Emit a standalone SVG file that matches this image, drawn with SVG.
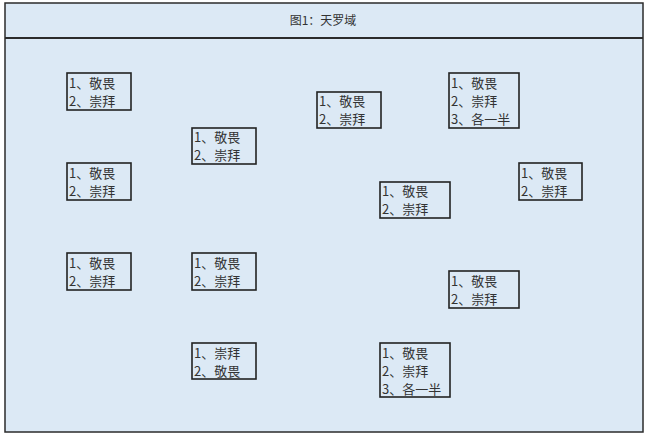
<svg xmlns="http://www.w3.org/2000/svg" width="648" height="437" viewBox="0 0 648 437">
<style>
.frame{fill:#dce9f5;stroke:#2b2b2b;stroke-width:1.5}
.box{fill:#dce9f5;stroke:#222;stroke-width:1.6}
.t{font-family:"Noto Sans CJK SC","Liberation Sans",sans-serif;font-size:13px;fill:#333}
.title{font-family:"Noto Sans CJK SC","Liberation Sans",sans-serif;font-size:12px;fill:#333;text-anchor:middle}
</style>
<rect width="648" height="437" fill="#ffffff"/>
<g id="frame">
<rect class="frame" x="5" y="3" width="638" height="429"/>
<line x1="5" y1="38" x2="643" y2="38" stroke="#2b2b2b" stroke-width="2"/>
<text class="title" x="323" y="25">图1：天罗域</text>
</g>
<g id="n1"><rect class="box" x="67" y="73" width="64" height="37"/><text class="t" x="69" y="88">1、敬畏</text><text class="t" x="69" y="106">2、崇拜</text></g>
<g id="n2"><rect class="box" x="67" y="163" width="64" height="37"/><text class="t" x="69" y="178">1、敬畏</text><text class="t" x="69" y="196">2、崇拜</text></g>
<g id="n3"><rect class="box" x="67" y="253" width="64" height="37"/><text class="t" x="69" y="268">1、敬畏</text><text class="t" x="69" y="286">2、崇拜</text></g>
<g id="n4"><rect class="box" x="192" y="128" width="64" height="36"/><text class="t" x="194" y="142">1、敬畏</text><text class="t" x="194" y="160">2、崇拜</text></g>
<g id="n5"><rect class="box" x="192" y="253" width="64" height="37"/><text class="t" x="194" y="268">1、敬畏</text><text class="t" x="194" y="286">2、崇拜</text></g>
<g id="n6"><rect class="box" x="192" y="343" width="64" height="36"/><text class="t" x="194" y="358">1、崇拜</text><text class="t" x="194" y="376">2、敬畏</text></g>
<g id="n7"><rect class="box" x="317" y="92" width="64" height="36"/><text class="t" x="319" y="106">1、敬畏</text><text class="t" x="319" y="124">2、崇拜</text></g>
<g id="n8"><rect class="box" x="380" y="182" width="70" height="36"/><text class="t" x="382" y="196">1、敬畏</text><text class="t" x="382" y="214">2、崇拜</text></g>
<g id="n9"><rect class="box" x="380" y="343" width="70" height="54"/><text class="t" x="382" y="358">1、敬畏</text><text class="t" x="382" y="376">2、崇拜</text><text class="t" x="382" y="394">3、各一半</text></g>
<g id="n10"><rect class="box" x="449" y="73" width="70" height="55"/><text class="t" x="451" y="88">1、敬畏</text><text class="t" x="451" y="106">2、崇拜</text><text class="t" x="451" y="124">3、各一半</text></g>
<g id="n11"><rect class="box" x="449" y="271" width="70" height="37"/><text class="t" x="451" y="286">1、敬畏</text><text class="t" x="451" y="304">2、崇拜</text></g>
<g id="n12"><rect class="box" x="519" y="163" width="63" height="37"/><text class="t" x="521" y="178">1、敬畏</text><text class="t" x="521" y="196">2、崇拜</text></g>
<g id="connectors"></g>
</svg>
